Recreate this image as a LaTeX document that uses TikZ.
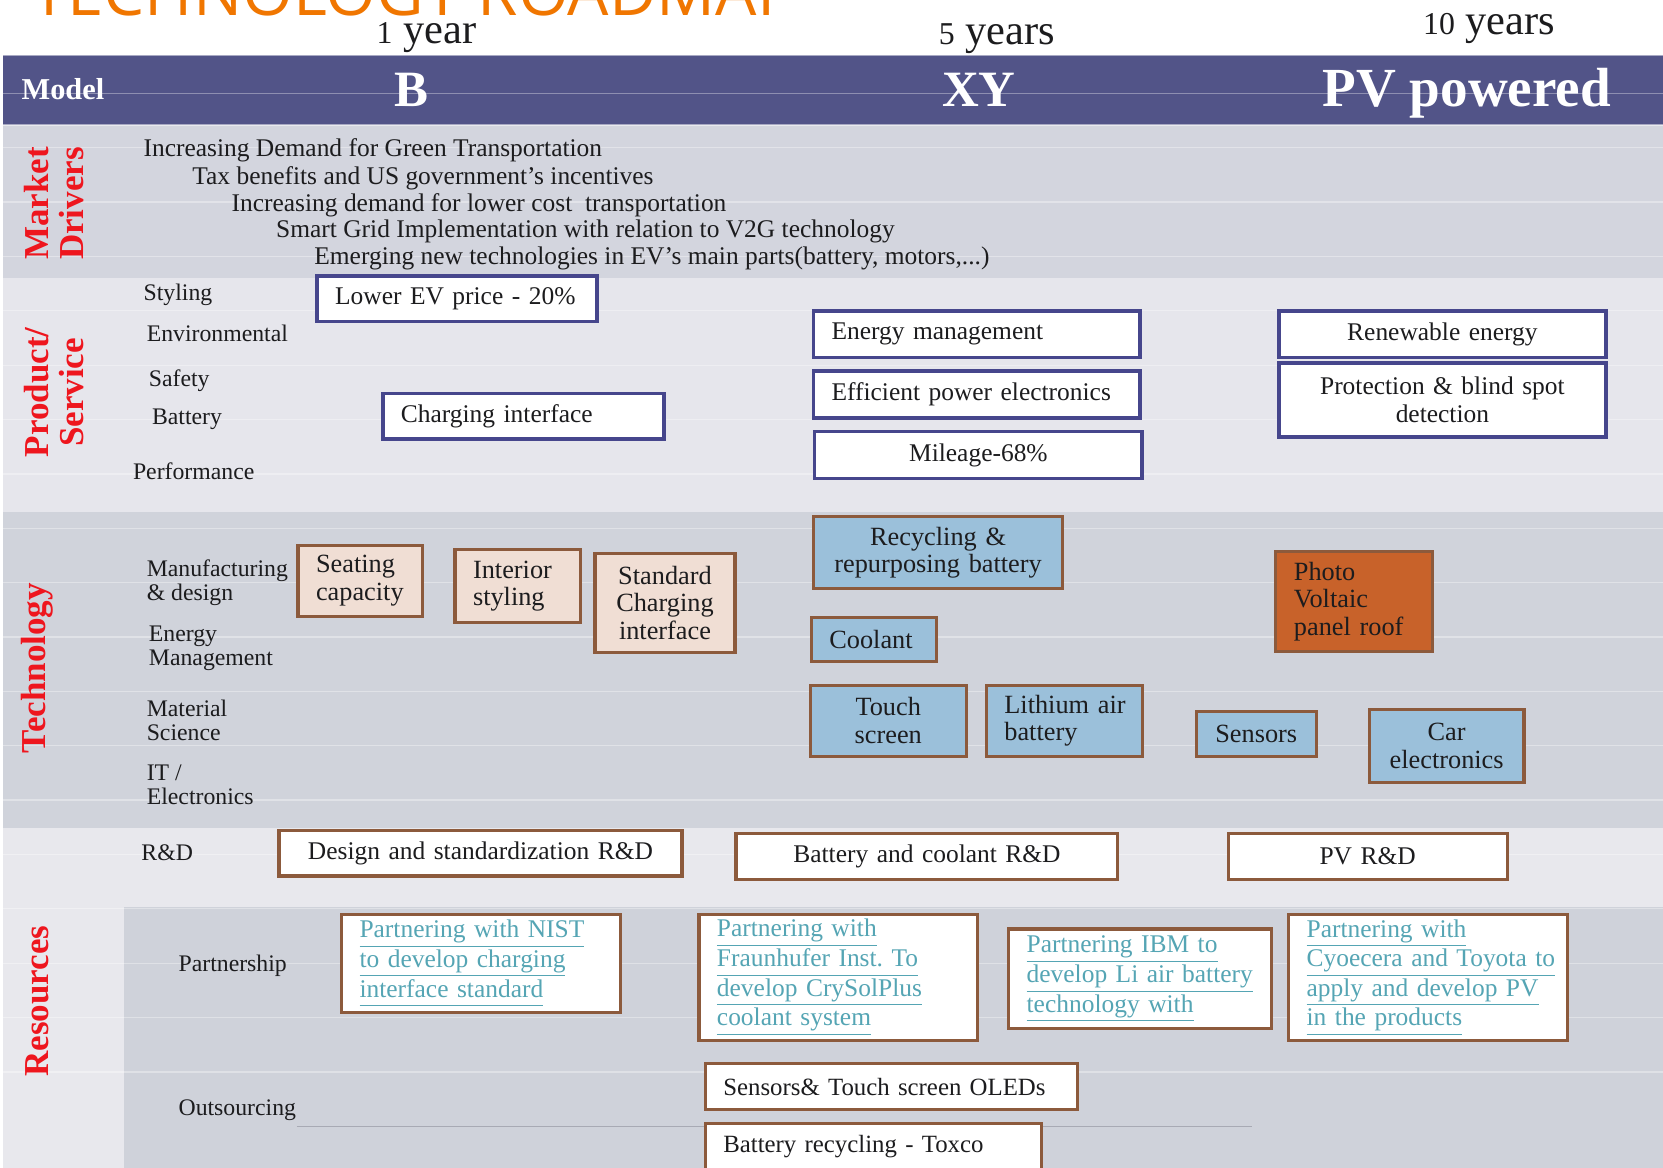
\documentclass[tikz,border=0pt]{standalone}
\usepackage{fontspec}
\setmainfont{Liberation Serif}
\newfontfamily\titlefont{Open Sans}
\frenchspacing

\definecolor{band}{RGB}{82,84,136}
\definecolor{rowA}{RGB}{211,213,222}
\definecolor{rowB}{RGB}{230,230,236}
\definecolor{rowC}{RGB}{208,211,219}
\definecolor{rowD}{RGB}{232,232,237}
\definecolor{rowE}{RGB}{207,210,218}
\definecolor{navyb}{RGB}{70,70,140}
\definecolor{brownb}{RGB}{140,90,60}
\definecolor{tanf}{RGB}{240,222,212}
\definecolor{bluef}{RGB}{155,192,218}
\definecolor{pvf}{RGB}{200,98,42}
\definecolor{linkc}{RGB}{85,165,180}
\definecolor{secred}{RGB}{238,22,30}
\definecolor{orng}{RGB}{240,118,0}
\definecolor{ink}{RGB}{28,28,30}

% underlined hyperlink-style line
\newcommand\lnk[1]{\underline{#1\vphantom{y}}}
% short (old-style looking) figures for the time scale
\newcommand\osfig[1]{{\fontsize{15}{15}\selectfont #1}}

% box node: name, x1, y1, x2, y2, style, text  (coordinates of the outer edges)
\newcommand\bx[7]{%
  \pgfmathsetmacro\bw{(#4-#2)*0.5}%
  \pgfmathsetmacro\bh{(#5-#3)*0.5}%
  \pgfmathsetmacro\tw{\bw-17}%
  \node[#6, minimum width=\bw pt, minimum height=\bh pt, text width=\tw pt,
        inner xsep=8.5pt, inner ysep=0pt] (#1) at ({(#2+#4)/2},{(#3+#5)/2}) {#7};}

\begin{document}
\begin{tikzpicture}[x=0.5pt,y=-0.5pt,
  pbox/.style={draw=navyb, line width=1.7pt, fill=white, text=ink,
               font=\fontsize{12}{13}\selectfont},
  tbox/.style={draw=brownb, line width=1.5pt, text=ink,
               font=\fontsize{12.4}{13}\selectfont},
  tanbox/.style={tbox, fill=tanf},
  bluebox/.style={tbox, fill=bluef},
  pvbox/.style={tbox, fill=pvf},
  rdbox/.style={draw=brownb, line width=1.5pt, fill=white, text=ink,
                font=\fontsize{12}{13}\selectfont},
  linkbox/.style={draw=brownb, line width=1.5pt, fill=white, text=linkc,
                  font=\fontsize{12}{12.65}\selectfont},
  lbl/.style={font=\fontsize{11.2}{11.3}\selectfont, text=ink, inner sep=0pt,
              anchor=base west, align=left},
  drv/.style={font=\fontsize{12}{13}\selectfont, text=ink, inner sep=0pt,
              anchor=base west},
  sect/.style={text=secred, font=\bfseries\fontsize{16.5}{16.5}\selectfont,
               rotate=90, align=center, inner sep=0pt},
  yr/.style={font=\fontsize{20}{20}\selectfont, text=ink, inner sep=0pt, anchor=base},
  hdr/.style={font=\bfseries\fontsize{24}{24}\selectfont, text=white, inner sep=0pt, anchor=base},
  grid line/.style={white, opacity=0.35, line width=0.6pt}
]
\useasboundingbox (0,0) rectangle (1568,1101);
\clip (0,0) rectangle (1568,1101);
\fill[white] (0,0) rectangle (1568,1101);

% row backgrounds
\fill[band] (3,52) rectangle (1568,118);
\fill[rowA] (3,118) rectangle (1568,262);
\fill[rowB] (3,262) rectangle (1568,483);
\fill[rowC] (3,483) rectangle (1568,781);
\fill[rowD] (3,781) rectangle (1568,855);
\fill[rowD] (3,855) rectangle (117,1101);
\fill[rowE] (117,855) rectangle (1568,1101);
\draw[white, opacity=0.5, line width=0.8pt] (3,52) -- (1568,52);
\draw[white, opacity=0.5, line width=0.8pt] (3,118) -- (1568,118);

% faint table rules
\foreach \k in {0,...,18}
  \draw[grid line] (3,{88+51.26*\k}) -- (1568,{88+51.26*\k});
\draw[color={rgb,255:red,168;green,170;blue,180}, line width=0.8pt] (280,1062) -- (1180,1062);

% title and time scale
\node[anchor=base west, inner sep=0pt, text=orng,
      font=\titlefont\fontsize{30.8}{31}\selectfont] (title) at (29,15) {TECHNOLOGY ROADMAP};
\node[yr] (y1) at (402,41) {\osfig{1} year};
\node[yr] (y5) at (940,42) {\osfig{5} years};
\node[yr] (y10) at (1404,33) {\osfig{10} years};

% model band
\node[font=\bfseries\fontsize{14.3}{15}\selectfont, text=white, inner sep=0pt,
      anchor=base west] (model) at (20,94) {Model};
\node[hdr] (mB) at (388,100) {B};
\node[hdr] (mXY) at (923,100) {XY};
\node[hdr, font=\bfseries\fontsize{26}{26}\selectfont] (mPV) at (1383,100) {PV powered};

% section titles
\node[sect] (sMD) at (51,192) {Market\\Drivers};
\node[sect] (sPS) at (51,370) {Product/\\Service};
\node[sect] (sT) at (35,630) {Technology};
\node[sect] (sR) at (35,944) {Resources};

% market drivers
\node[drv] (d1) at (135,148) {Increasing Demand for Green Transportation};
\node[drv] (d2) at (181,174) {Tax benefits and US government’s incentives};
\node[drv] (d3) at (218,199) {Increasing demand for lower cost \ transportation};
\node[drv] (d4) at (260,224) {Smart Grid Implementation with relation to V2G technology};
\node[drv] (d5) at (296,249) {Emerging new technologies in EV's main parts(battery, motors,...)};

% product / service
\node[lbl] (lsty) at (135,283) {Styling};
\node[lbl] (lenv) at (138,322) {Environmental};
\node[lbl] (lsaf) at (140,364) {Safety};
\node[lbl] (lbat) at (143,400) {Battery};
\node[lbl] (lperf) at (125,452) {Performance};

\bx{lowev}{299}{260}{563}{303}{pbox, align=left}{Lower EV price - 20\%}
\bx{chgif}{361}{371}{626}{414}{pbox, align=left}{Charging interface}
\bx{energy}{767}{293}{1075}{337}{pbox, align=left}{Energy management}
\bx{effpe}{767}{350}{1075}{394}{pbox, align=left}{Efficient power electronics}
\bx{mileage}{768}{407}{1077}{451}{pbox, align=center}{Mileage-68\%}
\bx{renew}{1206}{293}{1514}{337}{pbox, align=center}{Renewable energy}
\bx{protect}{1206}{342}{1514}{412}{pbox, align=center}{Protection \& blind spot\\detection}

% technology
\node[lbl, anchor=west] (lmfg) at (138,549) {Manufacturing\\\& design};
\node[lbl, anchor=west] (lem) at (140,611) {Energy\\Management};
\node[lbl, anchor=west] (lmat) at (138,679) {Material\\Science};
\node[lbl, anchor=west] (lit) at (138,740) {IT /\\Electronics};

\bx{seat}{281}{514}{398}{581}{tanbox, align=left}{Seating\\capacity}
\bx{interior}{429}{518}{547}{587}{tanbox, align=left}{Interior\\styling}
\bx{stdchg}{561}{522}{693}{615}{tanbox, align=center}{Standard\\Charging\\interface}
\bx{recyc}{767}{487}{1002}{555}{bluebox, align=center}{Recycling \&\\repurposing battery}
\bx{coolant}{765}{582}{883}{624}{bluebox, align=left}{Coolant}
\bx{touch}{764}{646}{911}{713}{bluebox, align=center}{Touch\\screen}
\bx{liair}{930}{646}{1077}{713}{bluebox, align=left}{\mbox{Lithium air}\\battery}
\bx{sensors}{1128}{671}{1241}{713}{bluebox, align=center}{Sensors}
\bx{carel}{1291}{669}{1437}{738}{bluebox, align=center}{Car\\electronics}
\bx{pvroof}{1203}{520}{1351}{614}{pvbox, align=left}{Photo\\Voltaic\\\mbox{panel roof}}

% resources
\node[lbl] (lrd) at (133,811) {R\&D};
\node[lbl] (lpart) at (168,916) {Partnership};
\node[lbl] (lout) at (168,1052) {Outsourcing};

\bx{rd1}{263}{783}{643}{826}{rdbox, align=center}{Design and standardization R\&D}
\bx{rd2}{694}{786}{1054}{829}{rdbox, align=center}{Battery and coolant R\&D}
\bx{rd3}{1158}{786}{1421}{829}{rdbox, align=center}{PV R\&D}

\bx{nist}{322}{862}{585}{955}{linkbox, align=left}{\lnk{Partnering with NIST}\\\lnk{to develop charging}\\\lnk{interface standard}}
\bx{fraun}{659}{862}{922}{981}{linkbox, align=left}{\lnk{Partnering with}\\\lnk{Fraunhufer Inst. To}\\\lnk{develop CrySolPlus}\\\lnk{coolant system}}
\bx{ibm}{951}{876}{1199}{970}{linkbox, align=left}{\lnk{Partnering IBM to}\\\lnk{develop Li air battery}\\\lnk{technology with}}
\bx{kyo}{1215}{862}{1478}{981}{linkbox, align=left}{\lnk{Partnering with}\\\lnk{Cyoecera and Toyota to}\\\lnk{apply and develop PV}\\\lnk{in the products}}

\bx{oled}{665}{1003}{1016}{1046}{rdbox, align=left, font=\fontsize{11.7}{13}\selectfont}{Sensors\& Touch screen OLEDs}
\bx{toxco}{665}{1059}{982}{1104}{rdbox, align=left, font=\fontsize{11.7}{13}\selectfont}{Battery recycling - Toxco}
\end{tikzpicture}
\end{document}
